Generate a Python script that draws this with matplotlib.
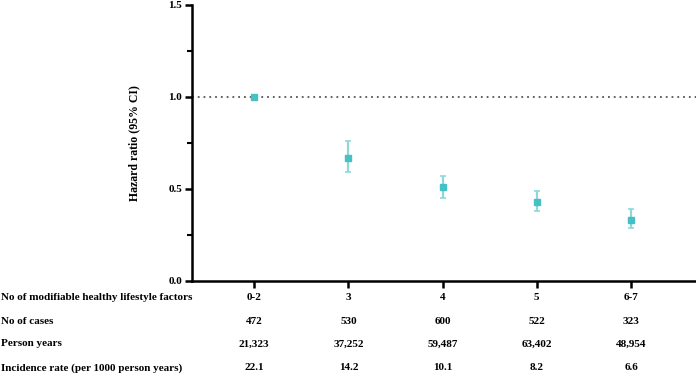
import matplotlib
matplotlib.use("Agg")
import matplotlib.pyplot as plt
from matplotlib.ticker import MultipleLocator

groups = ["0-2", "3", "4", "5", "6-7"]
hazard_ratio = [1.0, 0.67, 0.51, 0.43, 0.33]
ci_low = [1.0, 0.59, 0.45, 0.38, 0.29]
ci_high = [1.0, 0.76, 0.57, 0.49, 0.39]
cases = ["472", "530", "600", "522", "323"]
person_years = ["21,323", "37,252", "59,487", "63,402", "48,954"]
incidence = ["22.1", "14.2", "10.1", "8.2", "6.6"]

row_labels = [
    "No of modifiable healthy lifestyle factors",
    "No of cases",
    "Person years",
    "Incidence rate (per 1000 person years)",
]

plt.rcParams["font.family"] = ["Liberation Serif", "DejaVu Serif"]
plt.rcParams["font.weight"] = "bold"

teal = "#45C1C4"
fig = plt.figure(figsize=(6.96, 3.75), dpi=100)
ax = fig.add_axes([0.2759, 0.2507, 0.7241, 0.736])

x = list(range(1, len(groups) + 1))
yerr = [
    [h - lo for h, lo in zip(hazard_ratio, ci_low)],
    [hi - h for h, hi in zip(hazard_ratio, ci_high)],
]
ax.axhline(1.0, color="#555555", linestyle=(0, (1, 2.2)), linewidth=1.3, zorder=1)
ax.errorbar(x, hazard_ratio, yerr=yerr, fmt="none", ecolor="#8FD8DA",
            elinewidth=1.6, capsize=2.5, capthick=1.2, zorder=2)
ax.plot(x, hazard_ratio, linestyle="none", marker="s", markersize=4,
        color=teal, zorder=3)

ax.set_xlim(0.34, 5.69)
ax.set_ylim(0, 1.5)
ax.yaxis.set_major_locator(MultipleLocator(0.5))
ax.yaxis.set_minor_locator(MultipleLocator(0.25))
ax.yaxis.set_major_formatter(matplotlib.ticker.FormatStrFormatter("%.1f"))
ax.set_xticks(x)
ax.set_xticklabels(groups)

for side in ("top", "right"):
    ax.spines[side].set_visible(False)
for side in ("left", "bottom"):
    ax.spines[side].set_linewidth(1.8)
ax.tick_params(axis="both", which="major", width=1.8, length=5, labelsize=8, pad=2)
ax.tick_params(axis="y", which="minor", width=1.5, length=3.5)
ax.tick_params(axis="x", pad=4)

ax.set_ylabel("Hazard ratio (95% CI)", fontsize=8.5, fontweight="bold", labelpad=20)

trans = ax.get_xaxis_transform()
rows = [cases, person_years, incidence]
row_y = [-0.145, -0.228, -0.315]
for values, yy in zip(rows, row_y):
    for xi, v in zip(x, values):
        ax.text(xi, yy, v, transform=trans, ha="center", va="center",
                fontsize=8, fontweight="bold")

label_fig_y = [1 - 297 / 375, 1 - 321 / 375, 1 - 344 / 375, 1 - 368 / 375]
for label, yy in zip(row_labels, label_fig_y):
    fig.text(0.002, yy, label, ha="left", va="center", fontsize=8,
             fontweight="bold")

fig.savefig("out.png", dpi=100)
